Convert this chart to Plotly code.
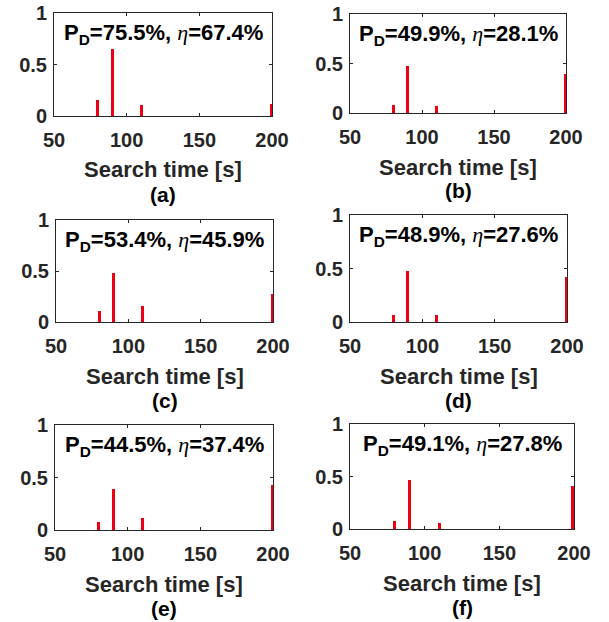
import plotly.graph_objects as go

# ---- data ----
search_times = [80, 90, 110, 200]
probs_a = [0.16, 0.65, 0.11, 0.115]
probs_b = [0.078, 0.47, 0.068, 0.39]
probs_c = [0.11, 0.48, 0.154, 0.275]
probs_d = [0.066, 0.48, 0.0625, 0.42]
probs_e = [0.077, 0.39, 0.119, 0.43]
probs_f = [0.074, 0.47, 0.058, 0.41]
pd_values = [75.5, 49.9, 53.4, 48.9, 44.5, 49.1]
eta_values = [67.4, 28.1, 45.9, 27.6, 37.4, 27.8]
panel_letters = ["a", "b", "c", "d", "e", "f"]
x_ticks = [50, 100, 150, 200]
y_ticks = [0, 0.5, 1]
x_label = "Search time [s]"

all_probs = [probs_a, probs_b, probs_c, probs_d, probs_e, probs_f]

# ---- layout (pixel boxes of each panel: x0, x1, ytop, ybottom) ----
W, H = 609, 622
boxes = [
    (54, 272, 13, 116),
    (350, 566, 14, 113),
    (56, 273, 220, 322),
    (350, 567, 215, 322),
    (55, 273, 425, 530),
    (350, 574, 424, 529),
]

AX = "#262626"
FONT = "Liberation Sans"
RED = "rgb(235,0,20)"
BAR_W = 2.0
EDGE_BAR_W = 3.4  # the bar on the right border is half clipped
bar_widths = [BAR_W] * (len(search_times) - 1) + [EDGE_BAR_W]

fig = go.Figure()
layout = dict(
    width=W, height=H,
    margin=dict(l=0, r=0, t=0, b=0, autoexpand=False),
    paper_bgcolor="white", plot_bgcolor="white",
    showlegend=False,
    font=dict(family=FONT, size=20, color=AX, weight="bold"),
    bargap=0,
)
annotations = []

for i, (probs, box) in enumerate(zip(all_probs, boxes)):
    x0, x1, yt, yb = box
    n = "" if i == 0 else str(i + 1)
    fig.add_trace(go.Bar(
        x=search_times, y=probs, width=bar_widths,
        marker=dict(color=RED, line=dict(width=0)),
        xaxis="x" + n, yaxis="y" + n,
    ))
    layout["xaxis" + n] = dict(
        domain=[x0 / W, x1 / W], anchor="y" + n,
        range=[50, 200], tickvals=x_ticks, ticktext=[str(v) for v in x_ticks],
        ticks="inside", ticklen=3, tickcolor=AX, tickwidth=1,
        showline=True, linecolor=AX, linewidth=1, mirror="ticks",
        showgrid=False, zeroline=False,
        tickfont=dict(family=FONT, size=20, color=AX, weight="bold"),
        ticklabelstandoff=6,
    )
    layout["yaxis" + n] = dict(
        domain=[1 - yb / H, 1 - yt / H], anchor="x" + n,
        range=[0, 1], tickvals=y_ticks, ticktext=["0", "0.5", "1"],
        ticks="inside", ticklen=3, tickcolor=AX, tickwidth=1,
        showline=True, linecolor=AX, linewidth=1, mirror="ticks",
        showgrid=False, zeroline=False,
        tickfont=dict(family=FONT, size=20, color=AX, weight="bold"),
        ticklabelstandoff=2,
    )
    cx = (x0 + x1) / 2 / W
    annotations.append(dict(
        xref="paper", yref="paper", x=cx, y=1 - (yt + 21) / H,
        xanchor="center", yanchor="middle", showarrow=False,
        text=("P<sub>D</sub>=%.1f%%, <span style=\"font-family:Liberation Serif;font-style:italic;font-weight:normal\">η</span>=%.1f%%"
              % (pd_values[i], eta_values[i])),
        font=dict(family=FONT, size=22, color="black", weight="bold"),
    ))
    annotations.append(dict(
        xref="paper", yref="paper", x=cx, y=1 - (yb + 54) / H,
        xanchor="center", yanchor="middle", showarrow=False,
        text=x_label,
        font=dict(family=FONT, size=22, color=AX, weight="bold"),
    ))
    annotations.append(dict(
        xref="paper", yref="paper", x=cx, y=1 - (yb + 78) / H,
        xanchor="center", yanchor="middle", showarrow=False,
        text="(%s)" % panel_letters[i],
        font=dict(family=FONT, size=21, color="black", weight="bold"),
    ))

layout["annotations"] = annotations
fig.update_layout(**layout)
fig.write_html("out.html", config={"displayModeBar": False},
               post_script="document.body.style.margin='0';")
